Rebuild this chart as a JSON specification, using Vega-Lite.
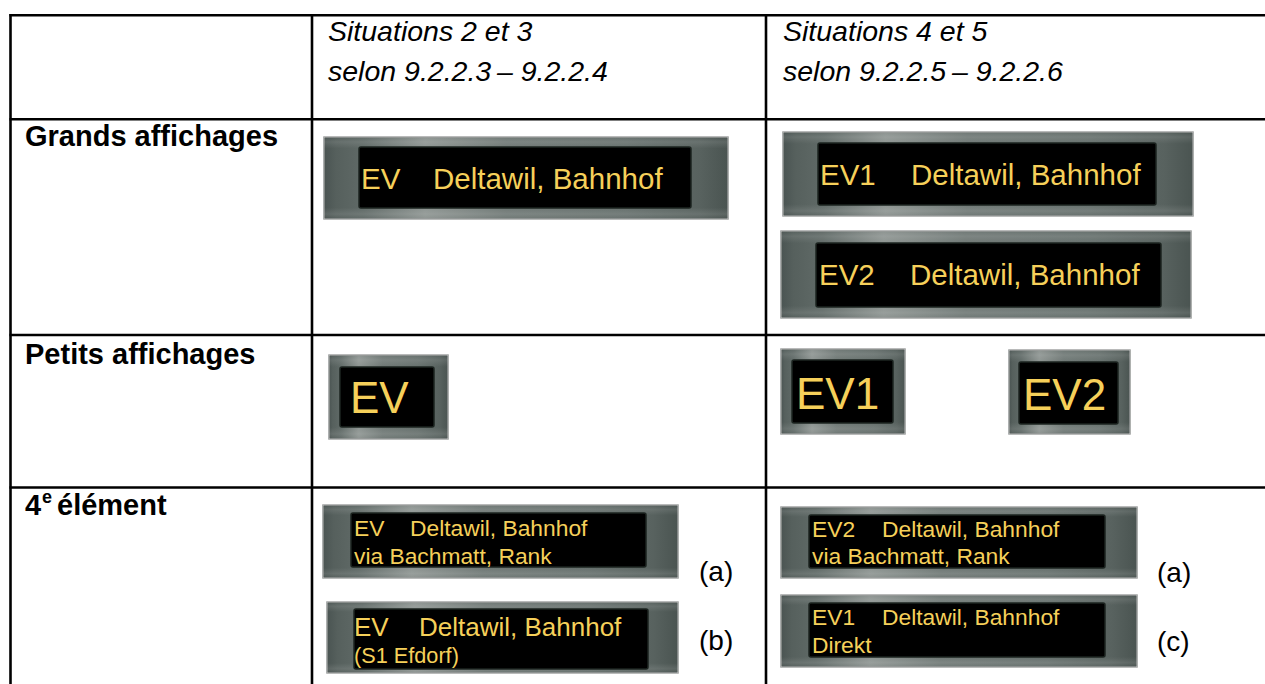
{
  "$schema": "https://vega.github.io/schema/vega-lite/v6.json",
  "width": 1265,
  "height": 684,
  "padding": 0,
  "autosize": {"type": "none"},
  "background": "white",
  "config": {"view": {"stroke": null}},
  "datasets": {
    "grid": [
      {"x": 10.5, "x2": 10.5, "y": 14, "y2": 684},
      {"x": 312, "x2": 312, "y": 14, "y2": 684},
      {"x": 766, "x2": 766, "y": 14, "y2": 684},
      {"x": 9.5, "x2": 1265, "y": 15.3, "y2": 15.3},
      {"x": 9.5, "x2": 1265, "y": 119.3, "y2": 119.3},
      {"x": 9.5, "x2": 1265, "y": 335, "y2": 335},
      {"x": 9.5, "x2": 1265, "y": 487.5, "y2": 487.5}
    ],
    "frames": [
      {"id": "L1", "x": 324, "x2": 728, "y": 137, "y2": 219},
      {"id": "L2", "x": 783, "x2": 1193, "y": 132, "y2": 216},
      {"id": "L3", "x": 781, "x2": 1191, "y": 231, "y2": 318},
      {"id": "S1", "x": 329, "x2": 448, "y": 355, "y2": 439},
      {"id": "S2", "x": 781, "x2": 905, "y": 349, "y2": 434},
      {"id": "S3", "x": 1009, "x2": 1130, "y": 350, "y2": 434},
      {"id": "F1", "x": 323, "x2": 678, "y": 505, "y2": 578},
      {"id": "F2", "x": 327, "x2": 678, "y": 602, "y2": 673},
      {"id": "F3", "x": 781, "x2": 1137, "y": 507, "y2": 578},
      {"id": "F4", "x": 781, "x2": 1137, "y": 595, "y2": 667}
    ],
    "screens": [
      {"id": "L1", "x": 359, "x2": 691, "y": 147, "y2": 208},
      {"id": "L2", "x": 818, "x2": 1156, "y": 143, "y2": 205},
      {"id": "L3", "x": 816, "x2": 1161, "y": 243, "y2": 307},
      {"id": "S1", "x": 340, "x2": 434, "y": 367, "y2": 427},
      {"id": "S2", "x": 792, "x2": 893, "y": 360, "y2": 423},
      {"id": "S3", "x": 1019, "x2": 1118, "y": 362, "y2": 424},
      {"id": "F1", "x": 351, "x2": 646, "y": 513, "y2": 567},
      {"id": "F2", "x": 354, "x2": 648, "y": 609, "y2": 669},
      {"id": "F3", "x": 809, "x2": 1105, "y": 515, "y2": 568},
      {"id": "F4", "x": 809, "x2": 1105, "y": 603, "y2": 657}
    ],
    "texts": [
      {"kind": "head", "text": "Situations 2 et 3", "x": 328, "y": 41},
      {"kind": "head", "text": "selon 9.2.2.3\u2009– 9.2.2.4", "x": 328, "y": 81},
      {"kind": "head", "text": "Situations 4 et 5", "x": 783, "y": 41},
      {"kind": "head", "text": "selon 9.2.2.5\u2009– 9.2.2.6", "x": 783, "y": 81},
      {"kind": "label", "text": "Grands affichages", "x": 25, "y": 146},
      {"kind": "label", "text": "Petits affichages", "x": 25, "y": 364},
      {"kind": "label", "text": "4", "x": 25, "y": 515},
      {"kind": "label", "text": "élément", "x": 57, "y": 515},
      {"kind": "sup", "text": "e", "x": 42, "y": 503},
      {"kind": "big", "text": "EV", "x": 361, "y": 189},
      {"kind": "big", "text": "Deltawil, Bahnhof", "x": 433, "y": 189},
      {"kind": "big", "text": "EV1", "x": 820, "y": 185},
      {"kind": "big", "text": "Deltawil, Bahnhof", "x": 911, "y": 185},
      {"kind": "big", "text": "EV2", "x": 819, "y": 285},
      {"kind": "big", "text": "Deltawil, Bahnhof", "x": 910, "y": 285},
      {"kind": "small", "text": "EV", "x": 350, "y": 413},
      {"kind": "small", "text": "EV1", "x": 796, "y": 409},
      {"kind": "small", "text": "EV2", "x": 1023, "y": 410},
      {"kind": "line", "text": "EV", "x": 354, "y": 536},
      {"kind": "line", "text": "Deltawil, Bahnhof", "x": 410, "y": 536},
      {"kind": "line", "text": "via Bachmatt, Rank", "x": 354, "y": 564},
      {"kind": "line", "text": "EV2", "x": 812, "y": 537},
      {"kind": "line", "text": "Deltawil, Bahnhof", "x": 882, "y": 537},
      {"kind": "line", "text": "via Bachmatt, Rank", "x": 812, "y": 564},
      {"kind": "line", "text": "EV1", "x": 812, "y": 625},
      {"kind": "line", "text": "Deltawil, Bahnhof", "x": 882, "y": 625},
      {"kind": "line", "text": "Direkt", "x": 812, "y": 653},
      {"kind": "lineb", "text": "EV", "x": 354, "y": 636},
      {"kind": "lineb", "text": "Deltawil, Bahnhof", "x": 419, "y": 636},
      {"kind": "linec", "text": "(S1 Efdorf)", "x": 354, "y": 663},
      {"kind": "note", "text": "(a)", "x": 699, "y": 581},
      {"kind": "note", "text": "(b)", "x": 699, "y": 650},
      {"kind": "note", "text": "(a)", "x": 1157, "y": 582},
      {"kind": "note", "text": "(c)", "x": 1157, "y": 651}
    ]
  },
  "encoding": {
    "x": {"field": "x", "type": "quantitative", "scale": {"domain": [0, 1265], "nice": false, "zero": false}, "axis": null},
    "y": {"field": "y", "type": "quantitative", "scale": {"domain": [0, 684], "nice": false, "zero": false, "reverse": true}, "axis": null}
  },
  "layer": [
    {
      "data": {"name": "frames"},
      "mark": {
        "type": "rect",
        "stroke": "#4a4d4c",
        "strokeWidth": 1.2,
        "fill": {
          "gradient": "linear", "x1": 0, "y1": 0, "x2": 1, "y2": 0,
          "stops": [
            {"offset": 0, "color": "#4a5452"},
            {"offset": 0.03, "color": "#56605d"},
            {"offset": 0.1, "color": "#606a67"},
            {"offset": 0.25, "color": "#8d9491"},
            {"offset": 0.45, "color": "#6f7875"},
            {"offset": 0.75, "color": "#66706d"},
            {"offset": 0.93, "color": "#58625f"},
            {"offset": 1, "color": "#4a5451"}
          ]
        }
      },
      "encoding": {"x2": {"field": "x2"}, "y2": {"field": "y2"}}
    },
    {
      "data": {"name": "frames"},
      "mark": {
        "type": "rect",
        "stroke": "#d9dcdb",
        "strokeWidth": 0.8,
        "fill": {
          "gradient": "linear", "x1": 0, "y1": 0, "x2": 0, "y2": 1,
          "stops": [
            {"offset": 0, "color": "rgba(255,255,255,0)"},
            {"offset": 0.06, "color": "rgba(255,255,255,0.10)"},
            {"offset": 0.14, "color": "rgba(255,255,255,0)"},
            {"offset": 0.86, "color": "rgba(255,255,255,0)"},
            {"offset": 0.94, "color": "rgba(255,255,255,0.10)"},
            {"offset": 1, "color": "rgba(255,255,255,0)"}
          ]
        }
      },
      "encoding": {"x2": {"field": "x2"}, "y2": {"field": "y2"}}
    },
    {
      "data": {"name": "screens"},
      "mark": {"type": "rect", "fill": "#000000", "stroke": "#1c2420", "strokeWidth": 1.5, "cornerRadius": 2},
      "encoding": {"x2": {"field": "x2"}, "y2": {"field": "y2"}}
    },
    {
      "data": {"name": "grid"},
      "mark": {"type": "rule", "color": "#000000", "strokeWidth": 2.6},
      "encoding": {"x2": {"field": "x2"}, "y2": {"field": "y2"}}
    },
    {
      "data": {"name": "texts"},
      "transform": [{"filter": "datum.kind === 'head'"}],
      "mark": {"type": "text", "align": "left", "baseline": "alphabetic", "font": "Liberation Sans", "fontStyle": "italic", "fontSize": 28.5, "color": "#000000"},
      "encoding": {"text": {"field": "text"}}
    },
    {
      "data": {"name": "texts"},
      "transform": [{"filter": "datum.kind === 'label'"}],
      "mark": {"type": "text", "align": "left", "baseline": "alphabetic", "font": "Liberation Sans", "fontWeight": "bold", "fontSize": 29, "color": "#000000"},
      "encoding": {"text": {"field": "text"}}
    },
    {
      "data": {"name": "texts"},
      "transform": [{"filter": "datum.kind === 'sup'"}],
      "mark": {"type": "text", "align": "left", "baseline": "alphabetic", "font": "Liberation Sans", "fontWeight": "bold", "fontSize": 18, "color": "#000000"},
      "encoding": {"text": {"field": "text"}}
    },
    {
      "data": {"name": "texts"},
      "transform": [{"filter": "datum.kind === 'note'"}],
      "mark": {"type": "text", "align": "left", "baseline": "alphabetic", "font": "Liberation Sans", "fontSize": 28, "color": "#000000"},
      "encoding": {"text": {"field": "text"}}
    },
    {
      "data": {"name": "texts"},
      "transform": [{"filter": "datum.kind === 'big'"}],
      "mark": {"type": "text", "align": "left", "baseline": "alphabetic", "font": "Liberation Sans", "fontSize": 29.5, "color": "#f6d05a"},
      "encoding": {"text": {"field": "text"}}
    },
    {
      "data": {"name": "texts"},
      "transform": [{"filter": "datum.kind === 'small'"}],
      "mark": {"type": "text", "align": "left", "baseline": "alphabetic", "font": "Liberation Sans", "fontSize": 44, "color": "#f6d05a"},
      "encoding": {"text": {"field": "text"}}
    },
    {
      "data": {"name": "texts"},
      "transform": [{"filter": "datum.kind === 'line'"}],
      "mark": {"type": "text", "align": "left", "baseline": "alphabetic", "font": "Liberation Sans", "fontSize": 22.8, "color": "#f6d05a"},
      "encoding": {"text": {"field": "text"}}
    },
    {
      "data": {"name": "texts"},
      "transform": [{"filter": "datum.kind === 'lineb'"}],
      "mark": {"type": "text", "align": "left", "baseline": "alphabetic", "font": "Liberation Sans", "fontSize": 26, "color": "#f6d05a"},
      "encoding": {"text": {"field": "text"}}
    },
    {
      "data": {"name": "texts"},
      "transform": [{"filter": "datum.kind === 'linec'"}],
      "mark": {"type": "text", "align": "left", "baseline": "alphabetic", "font": "Liberation Sans", "fontSize": 21.7, "color": "#f6d05a"},
      "encoding": {"text": {"field": "text"}}
    }
  ]
}
